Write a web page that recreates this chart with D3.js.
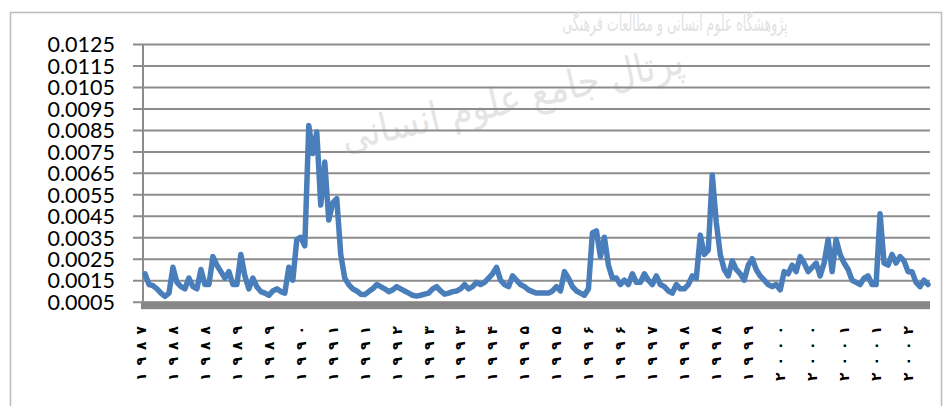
<!DOCTYPE html>
<html>
<head>
<meta charset="utf-8">
<script src="https://cdn.jsdelivr.net/npm/d3@7"></script>
<style>
  body { margin: 0; background: #fff; }
  svg { display: block; }
</style>
</head>
<body>
<svg id="chart" width="944" height="406"></svg>
<script>
// series, one value per period
var values = [
  0.0018, 0.0013, 0.00125, 0.0011, 0.0009, 0.00075, 0.0009, 0.0021, 0.0014, 0.0012,
  0.0011, 0.0016, 0.0012, 0.0011, 0.0020, 0.0013, 0.0013, 0.0026, 0.0022, 0.0019,
  0.0016, 0.0019, 0.0013, 0.0013, 0.0027, 0.0017, 0.0011, 0.0016, 0.0012, 0.00097,
  0.0009, 0.0008, 0.0010, 0.0011, 0.00097, 0.0009, 0.0021, 0.0015, 0.0034, 0.0035,
  0.0031, 0.0087, 0.0074, 0.0084, 0.0050, 0.0070, 0.0043, 0.0051, 0.0053, 0.0027,
  0.0016, 0.0013, 0.0011, 0.0010, 0.00085, 0.00083, 0.00097, 0.0011, 0.0013, 0.0012,
  0.0011, 0.00097, 0.00105, 0.0012, 0.0011, 0.0010, 0.0009, 0.0008, 0.00076, 0.0008,
  0.00085, 0.0009, 0.0011, 0.0012, 0.0010, 0.00085, 0.0009, 0.00097, 0.0010, 0.0011,
  0.0013, 0.0011, 0.0012, 0.0014, 0.0013, 0.0014, 0.0016, 0.0018, 0.0021, 0.0015,
  0.0013, 0.0012, 0.0017, 0.0015, 0.0013, 0.0012, 0.00105, 0.00097, 0.0009, 0.0009,
  0.0009, 0.0009, 0.0010, 0.0012, 0.0010, 0.0019, 0.0016, 0.0012, 0.0010, 0.0009,
  0.0008, 0.0011, 0.0037, 0.0038, 0.0026, 0.0035, 0.0022, 0.0016, 0.0016, 0.0013,
  0.0015, 0.0013, 0.0018, 0.0014, 0.0014, 0.0018, 0.0015, 0.0013, 0.0017, 0.0013,
  0.0012, 0.0010, 0.0009, 0.0013, 0.0011, 0.0011, 0.0013, 0.0017, 0.0016, 0.0036,
  0.0027, 0.0029, 0.0064, 0.0042, 0.0027, 0.0020, 0.0017, 0.0024, 0.0020, 0.0018,
  0.0015, 0.0022, 0.0025, 0.0020, 0.0017, 0.0015, 0.0013, 0.0012, 0.0013, 0.00105,
  0.0019, 0.0018, 0.0022, 0.0019, 0.0026, 0.0023, 0.0019, 0.0021, 0.0023, 0.0017,
  0.0023, 0.0034, 0.0019, 0.0034, 0.0027, 0.0023, 0.0020, 0.0015, 0.0014, 0.0013,
  0.0016, 0.0017, 0.0013, 0.0013, 0.0046, 0.0023, 0.0022, 0.0027, 0.0023, 0.0026,
  0.0024, 0.0019, 0.0019, 0.0014, 0.0012, 0.0015, 0.0013
];

// category labels, one every 8 periods
var xLabels = [
  "۱۹۸۷", "۱۹۸۸", "۱۹۸۸", "۱۹۸۹", "۱۹۸۹", "۱۹۹۰", "۱۹۹۱", "۱۹۹۱", "۱۹۹۲",
  "۱۹۹۳", "۱۹۹۳", "۱۹۹۴", "۱۹۹۵", "۱۹۹۵", "۱۹۹۶", "۱۹۹۶", "۱۹۹۷", "۱۹۹۸",
  "۱۹۹۸", "۱۹۹۹", "۲۰۰۰", "۲۰۰۰", "۲۰۰۱", "۲۰۰۱", "۲۰۰۲"
];
var labelStep = 8;

var yTicks = [0.0005, 0.0015, 0.0025, 0.0035, 0.0045, 0.0055, 0.0065,
              0.0075, 0.0085, 0.0095, 0.0105, 0.0115, 0.0125];

var plotLeft = 143, plotRight = 930, plotTop = 44, plotBottom = 301.7;

var svg = d3.select("#chart");

// chart frame
svg.append("path")
  .attr("d", "M10.5,406 V12.5 H941.5 V406")
  .attr("fill", "none")
  .attr("stroke", "#bdbdbd")
  .attr("stroke-width", 1.5);

// faint watermark of the source page
svg.append("text")
  .attr("transform", "translate(675,31)")
  .attr("text-anchor", "middle")
  .attr("textLength", 225)
  .attr("lengthAdjust", "spacingAndGlyphs")
  .style("font-family", "DejaVu Sans")
  .style("font-size", "22px")
  .attr("fill", "#e2e2e2")
  .text("پژوهشگاه علوم انسانی و مطالعات فرهنگی");
svg.append("text")
  .attr("transform", "translate(515,112) rotate(-13)")
  .attr("text-anchor", "middle")
  .attr("textLength", 350)
  .attr("lengthAdjust", "spacingAndGlyphs")
  .style("font-family", "DejaVu Sans")
  .style("font-size", "40px")
  .attr("fill", "#e4e4e4")
  .text("پرتال جامع علوم انسانی");

var x = d3.scaleLinear()
  .domain([-0.5, values.length - 0.5])
  .range([plotLeft, plotRight]);

var y = d3.scaleLinear()
  .domain([0.0005, 0.0125])
  .range([plotBottom, plotTop]);

// horizontal gridlines + y labels
var yAxis = d3.axisLeft(y)
  .tickValues(yTicks)
  .tickSize(0)
  .tickFormat(d3.format(".4f"));

var gy = svg.append("g")
  .attr("transform", "translate(" + (plotLeft - 10) + ",0)")
  .call(yAxis);
gy.select(".domain").remove();
gy.selectAll(".tick line")
  .attr("x1", 0)
  .attr("x2", plotRight - plotLeft + 10)
  .attr("stroke", "#8c8c8c")
  .attr("stroke-width", 2);
gy.selectAll(".tick text")
  .attr("x", 115 - (plotLeft - 10))
  .attr("dy", "0.36em")
  .attr("text-anchor", "end")
  .attr("fill", "#000")
  .style("font-family", "Lato, 'Liberation Sans', sans-serif")
  .style("font-size", "21.5px");

// vertical axis line
svg.append("line")
  .attr("x1", plotLeft).attr("x2", plotLeft)
  .attr("y1", plotTop).attr("y2", plotBottom)
  .attr("stroke", "#8c8c8c")
  .attr("stroke-width", 2);

// thick floor bar under the plot
svg.append("rect")
  .attr("x", plotLeft - 2)
  .attr("y", plotBottom)
  .attr("width", plotRight - plotLeft + 2)
  .attr("height", 7.5)
  .attr("fill", "#878787");

// x labels, rotated
svg.append("g")
  .selectAll("text")
  .data(xLabels)
  .enter().append("text")
  .attr("transform", function (d, i) {
    return "translate(" + (x(i * labelStep) - 4) + ",326) rotate(-90)";
  })
  .attr("text-anchor", "end")
  .attr("dy", "0.35em")
  .attr("textLength", 55)
  .attr("lengthAdjust", "spacing")
  .style("font-family", "'DejaVu Sans'")
  .style("font-size", "14px")
  .style("font-weight", "bold")
  .attr("fill", "#000")
  .text(function (d) { return d; });

// the series
var line = d3.line()
  .x(function (d, i) { return x(i); })
  .y(function (d) { return y(d); });

svg.append("path")
  .datum(values)
  .attr("d", line)
  .attr("fill", "none")
  .attr("stroke", "#4a7ebb")
  .attr("stroke-width", 5.5)
  .attr("stroke-linejoin", "round")
  .attr("stroke-linecap", "round");
</script>
</body>
</html>
